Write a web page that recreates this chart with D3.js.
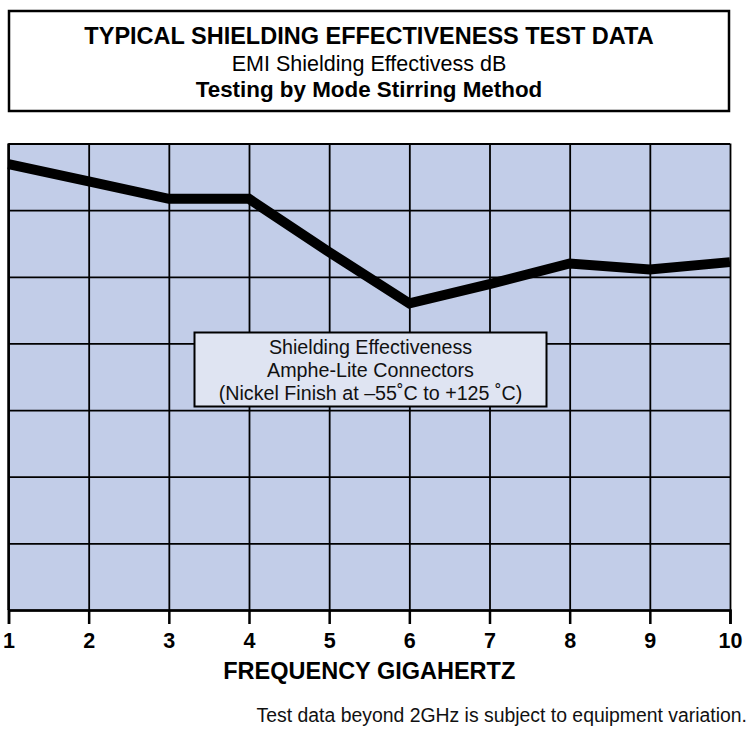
<!DOCTYPE html>
<html>
<head>
<meta charset="utf-8">
<script src="https://cdn.jsdelivr.net/npm/d3@7"></script>
<style>
  body { margin: 0; background: #fff; }
  text { font-family: "Liberation Sans", Arial, Helvetica, sans-serif; }
</style>
</head>
<body>
<div id="chart"></div>
<script>
// frequency (GHz) and shielding effectiveness (dB)
var freqs = [1, 2, 3, 4, 5, 6, 7, 8, 9, 10];
var shielding = [96.9, 94.3, 91.7, 91.7, 83.7, 76.0, 78.9, 82.0, 81.1, 82.2];
var yTicks = [30, 40, 50, 60, 70, 80, 90, 100];

var titleLines = ["TYPICAL SHIELDING EFFECTIVENESS TEST DATA",
                  "EMI Shielding Effectivess dB",
                  "Testing by Mode Stirring Method"];
var legendLines = ["Shielding Effectiveness",
                   "Amphe-Lite Connectors",
                   "(Nickel Finish at \u201355\u02DAC to +125 \u02DAC)"];
var xTitle = "FREQUENCY GIGAHERTZ";
var footnote = "Test data beyond 2GHz is subject to equipment variation.";

var margin = {top: 143.5, right: 21, bottom: 119, left: 8.5},
    width = 751 - margin.left - margin.right,
    height = 729 - margin.top - margin.bottom;

var root = d3.select("#chart")
  .append("svg")
    .attr("width", 751)
    .attr("height", 729);

// title box
root.append("rect")
    .attr("x", 9)
    .attr("y", 11)
    .attr("width", 720)
    .attr("height", 100)
    .attr("fill", "#fff")
    .attr("stroke", "#000")
    .attr("stroke-width", 2.5);

var titleStyle = [
  {size: 23.5, weight: "bold", y: 44},
  {size: 21.5, weight: "normal", y: 71},
  {size: 22.4, weight: "bold", y: 97}
];
root.selectAll(".title")
  .data(titleLines)
  .enter().append("text")
    .attr("class", "title")
    .attr("x", 369)
    .attr("y", function(d, i) { return titleStyle[i].y; })
    .attr("text-anchor", "middle")
    .attr("font-size", function(d, i) { return titleStyle[i].size; })
    .attr("font-weight", function(d, i) { return titleStyle[i].weight; })
    .attr("fill", "#000")
    .text(function(d) { return d; });

var svg = root.append("g")
    .attr("transform", "translate(" + margin.left + "," + margin.top + ")");

var x = d3.scaleLinear()
  .domain([1, 10])
  .range([0, width]);

var y = d3.scaleLinear()
  .domain([30, 100])
  .range([height, 0]);

svg.append("rect")
    .attr("width", width)
    .attr("height", height)
    .attr("fill", "#c2cde8");

// grid
svg.append("g")
    .attr("class", "hgrid")
    .call(d3.axisLeft(y).tickValues(yTicks).tickSize(-width).tickFormat(""))
    .call(function(g) { g.select(".domain").remove(); })
    .selectAll("line")
      .attr("stroke", "#000")
      .attr("stroke-width", 1.8);

svg.append("g")
    .attr("class", "vgrid")
    .call(d3.axisTop(x).tickValues(freqs).tickSize(-height).tickFormat(""))
    .call(function(g) { g.select(".domain").remove(); })
    .selectAll("line")
      .attr("stroke", "#000")
      .attr("stroke-width", 1.8);

svg.append("line")
    .attr("x1", 0).attr("x2", 0)
    .attr("y1", 0).attr("y2", height)
    .attr("stroke", "#000")
    .attr("stroke-width", 2.5);

// data line
var line = d3.line()
  .x(function(d, i) { return x(freqs[i]); })
  .y(function(d) { return y(d); });

svg.append("path")
    .datum(shielding)
    .attr("d", line)
    .attr("fill", "none")
    .attr("stroke", "#000")
    .attr("stroke-width", 10)
    .attr("stroke-linejoin", "miter")
    .attr("stroke-linecap", "butt");

// x axis
var xAxis = svg.append("g")
    .attr("transform", "translate(0," + height + ")")
    .call(d3.axisBottom(x).tickValues(freqs).tickSize(14).tickPadding(9).tickFormat(d3.format("d")));
xAxis.select(".domain")
    .attr("stroke", "#000")
    .attr("stroke-width", 2.5);
xAxis.selectAll(".tick line")
    .attr("stroke", "#000")
    .attr("stroke-width", 2.5);
xAxis.selectAll(".tick text")
    .attr("fill", "#000")
    .attr("font-family", "'Liberation Sans', Arial, sans-serif")
    .attr("font-size", 21.5)
    .attr("font-weight", "bold");

svg.append("text")
    .attr("x", width / 2)
    .attr("y", height + 69)
    .attr("text-anchor", "middle")
    .attr("font-size", 23.5)
    .attr("font-weight", "bold")
    .text(xTitle);

// legend box
var legend = svg.append("g")
    .attr("transform", "translate(" + 186 + "," + 189 + ")");

legend.append("rect")
    .attr("width", 352)
    .attr("height", 74)
    .attr("fill", "#dfe4f2")
    .attr("stroke", "#000")
    .attr("stroke-width", 2);

legend.selectAll("text")
  .data(legendLines)
  .enter().append("text")
    .attr("x", 176)
    .attr("y", function(d, i) { return 21 + i * 23; })
    .attr("text-anchor", "middle")
    .attr("font-size", 19.7)
    .attr("fill", "#111")
    .text(function(d) { return d; });

// footnote
root.append("text")
    .attr("x", 747)
    .attr("y", 722)
    .attr("text-anchor", "end")
    .attr("font-size", 19.4)
    .attr("fill", "#111")
    .text(footnote);
</script>
</body>
</html>
